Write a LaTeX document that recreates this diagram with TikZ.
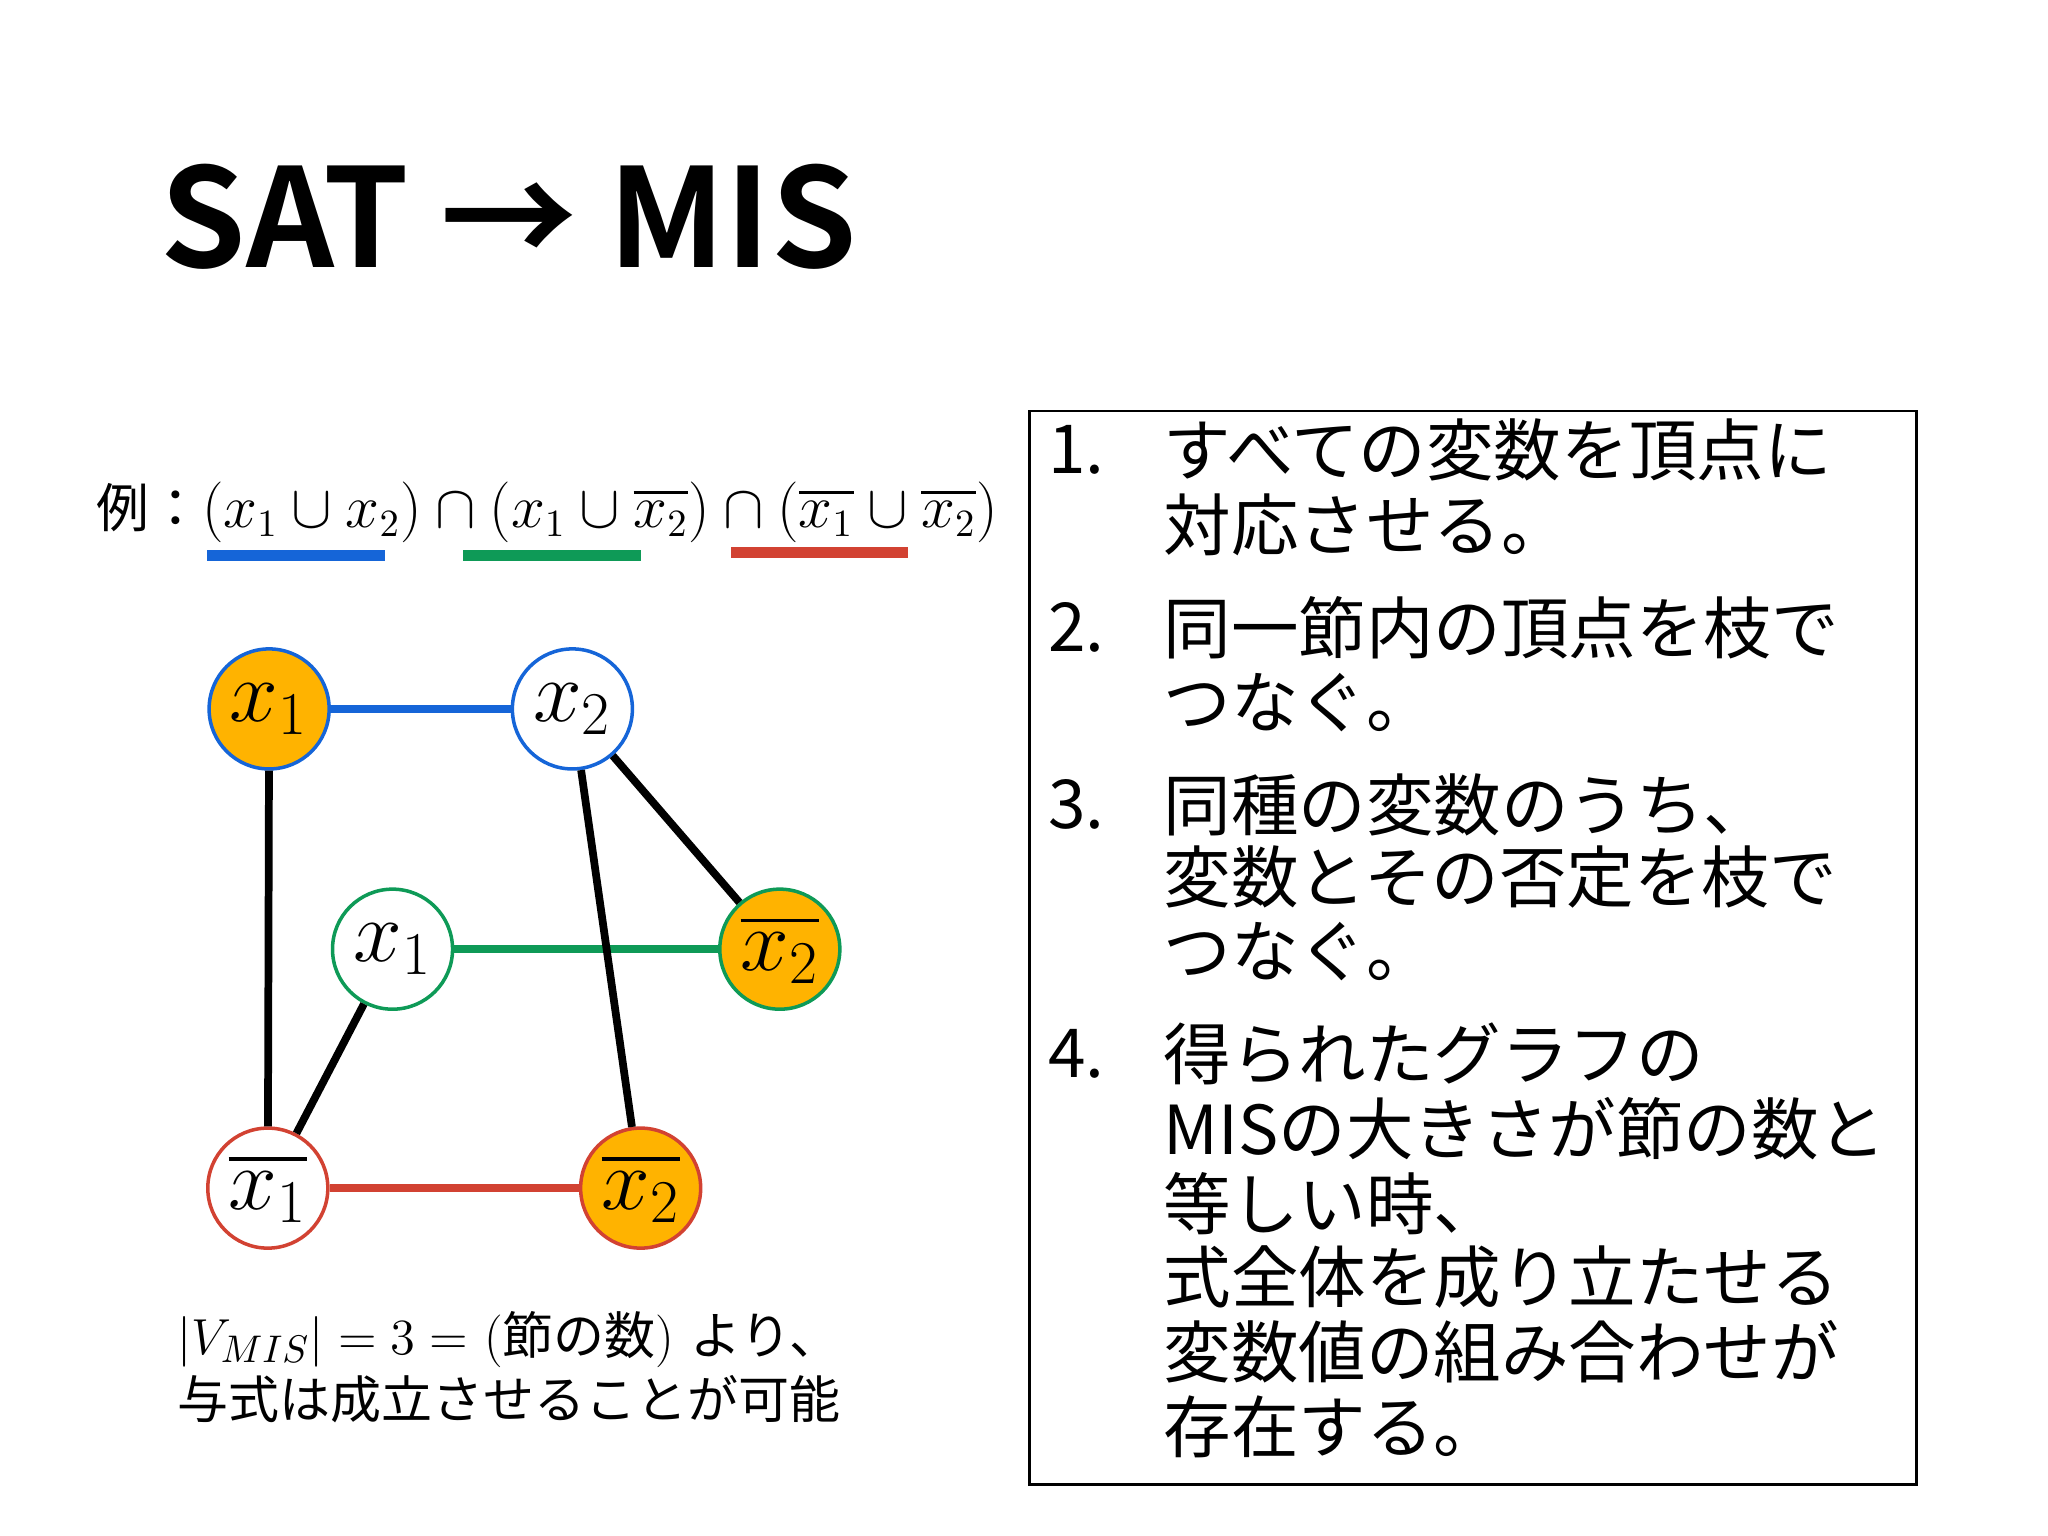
\documentclass[tikz,border=0pt]{standalone}
\usepackage{fontspec}
\usepackage{amsmath}
\newfontfamily\jp{Noto Sans CJK JP}
\newfontfamily\jpbold{Noto Sans CJK JP Bold}
\usetikzlibrary{calc}
\definecolor{myorange}{HTML}{FFB300}
\definecolor{myblue}{HTML}{1565D8}
\definecolor{mygreen}{HTML}{0E9A57}
\definecolor{myred}{HTML}{D24232}
\tikzset{
  vert/.style={circle, minimum size=1.2cm, inner sep=0pt, line width=1pt, font=\fontsize{24}{24}\selectfont},
  edge/.style={line width=2.2pt},
  uline/.style={line width=3pt},
  item/.style={anchor=west, inner sep=0pt, font=\jp\fontsize{19.2}{21}\selectfont},
}
\begin{document}
\begin{tikzpicture}[x=0.013128cm, y=-0.013128cm]
    \useasboundingbox (0,0) rectangle (1560,1170);
    % title
    \node[anchor=west, inner sep=0pt, font=\jpbold\fontsize{39}{39}\selectfont] (title) at (122,165) {SAT → MIS};
    % formula
    \node[anchor=west, inner sep=0pt, font=\fontsize{16}{16}\selectfont] (formula) at (73,390)
      {{\jp\fontsize{15}{15}\selectfont 例：}$(x_1\cup x_2)\cap(x_1\cup\overline{x_2})\cap(\overline{x_1}\cup\overline{x_2})$};
    \draw[uline, myblue] (158,423) -- (293,423);
    \draw[uline, mygreen] (353,423) -- (488,423);
    \draw[uline, myred] (557,421) -- (692,421);
    % vertices
    \node[vert, draw=myblue, fill=myorange] (a1) at (205,540) {$x_1$};
    \node[vert, draw=myblue, fill=white] (a2) at (436,540) {$x_2$};
    \node[vert, draw=mygreen, fill=white] (b1) at (299,723) {$x_1$};
    \node[vert, draw=mygreen, fill=myorange] (b2) at (594,723) {$\overline{x_2}$};
    \node[vert, draw=myred, fill=white] (c1) at (204,905) {$\overline{x_1}$};
    \node[vert, draw=myred, fill=myorange] (c2) at (488,905) {$\overline{x_2}$};
    % edges
    \draw[edge, myblue] (a1) -- (a2);
    \draw[edge, mygreen] (b1) -- (b2);
    \draw[edge, myred] (c1) -- (c2);
    \draw[edge] (a1) -- (c1);
    \draw[edge] (b1) -- (c1);
    \draw[edge] (a2) -- (b2);
    \draw[edge] (a2) -- (c2);
    % note
    \node[anchor=west, inner sep=0pt, font=\fontsize{15}{15}\selectfont] (note1) at (135,1020)
      {$|V_{MIS}| = 3 =$ ({\jp\fontsize{14.5}{14.5}\selectfont 節の数}) {\jp\fontsize{14.5}{14.5}\selectfont より、}};
    \node[anchor=west, inner sep=0pt, font=\jp\fontsize{14.5}{14.5}\selectfont] (note2) at (135,1066)
      {与式は成立させることが可能};
    % steps
    \draw[line width=0.8pt] (784,313) rectangle (1460,1131);
    \foreach \n/\y in {1./343, 2./478, 3./613, 4./803}
        \node[item] at (798,\y) {\n};
    \foreach \t/\y in {すべての変数を頂点に/343, 対応させる。/400,
                        同一節内の頂点を枝で/478, つなぐ。/535,
                        同種の変数のうち、/613, 変数とその否定を枝で/668, つなぐ。/725,
                        得られたグラフの/803, MISの大きさが節の数と/860, 等しい時、/917,
                        式全体を成り立たせる/973, 変数値の組み合わせが/1030, 存在する。/1087}
        \node[item] at (886,\y) {\t};
\end{tikzpicture}
\end{document}
